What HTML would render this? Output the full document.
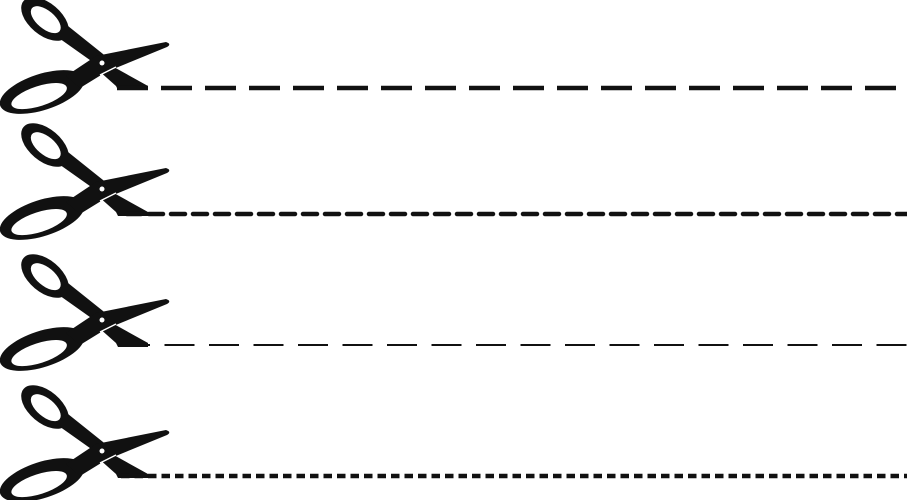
<!DOCTYPE html>
<html><head><meta charset="utf-8"><style>
html,body{margin:0;padding:0;background:#fff;}
svg{display:block;}
</style></head><body>
<svg width="907" height="500" viewBox="0 0 907 500" xmlns="http://www.w3.org/2000/svg">
<defs>
<g id="sc" fill="#111">
  <!-- upper ring -->
  <path fill-rule="evenodd" d="M45,19 m-28,0 a28,16 0 1,0 56,0 a28,16 0 1,0 -56,0 Z M46,19 m-18,0 a18,9 0 1,0 36,0 a18,9 0 1,0 -36,0 Z" transform="rotate(40 45 19)"/>
  <!-- upper handle to pivot -->
  <path d="M56,36 L68,26 L108,58 L104,70 Z"/>
  <!-- downward blade -->
  <path d="M98,70 L112,66 L148,86 L148,90 L118,90 L116,86 Z"/>
  <!-- lower ring -->
  <path fill-rule="evenodd" d="M42,92 m-44,0 a44,18 0 1,0 88,0 a44,18 0 1,0 -88,0 Z M38,95 m-29,0 a29,10 0 1,0 58,0 a29,10 0 1,0 -58,0 Z" transform="rotate(-18 42 92)"/>
  <!-- lower handle + long blade -->
  <path d="M66,76 L96,56 L166,42 Q172,44 167,47 L106,72 L80,88 Z"/>
  <!-- white separation & pivot -->
  <path d="M100,75 L116,67" stroke="#fff" stroke-width="1.5"/>
  <circle cx="102" cy="63" r="2.5" fill="#fff"/>
</g>
</defs>
<use href="#sc" x="0" y="0"/>
<use href="#sc" x="0" y="126"/>
<use href="#sc" x="0" y="257"/>
<use href="#sc" x="0" y="388"/>
<line x1="117" y1="88" x2="907" y2="88" stroke="#111" stroke-width="4.5" stroke-dasharray="31 13"/>
<line x1="127" y1="214" x2="907" y2="214" stroke="#111" stroke-width="4.5" stroke-linecap="round" stroke-dasharray="14 8"/>
<line x1="120" y1="345" x2="907" y2="345" stroke="#111" stroke-width="2" stroke-dasharray="30 14.5"/>
<line x1="121" y1="476" x2="907" y2="476" stroke="#111" stroke-width="4.5" stroke-dasharray="8.5 5"/>
</svg>
</body></html>
